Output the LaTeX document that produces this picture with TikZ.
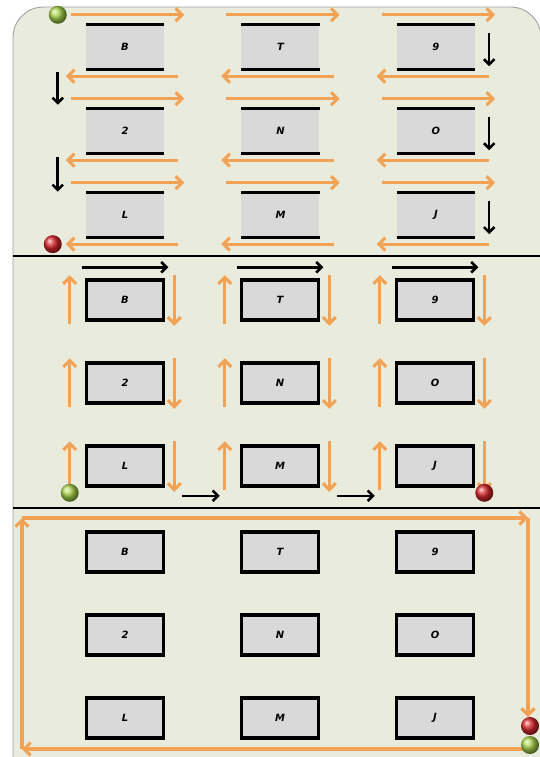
\documentclass[tikz,border=0pt]{standalone}
\usepackage{fontspec}
\setmainfont{DejaVu Sans}
\usetikzlibrary{arrows.meta,positioning,calc}
\definecolor{panel}{HTML}{E9ECDD}
\definecolor{edge}{HTML}{A3A3A3}
\definecolor{lotfill}{HTML}{D9D9D9}
\definecolor{route}{HTML}{F2A254}
\definecolor{startc}{HTML}{A8D44C}
\definecolor{stopc}{HTML}{D8282C}

\begin{document}
\begin{tikzpicture}[x=0.03cm, y=-0.03cm, node distance=1.185cm and 2.31cm,
      every node/.style={font=\fontsize{8.5}{10}\selectfont\bfseries\itshape},
      lot/.style={fill=lotfill, minimum width=2.34cm, minimum height=1.32cm, inner sep=0pt},
      stall/.style={draw=black, fill=lotfill, line width=3pt, minimum width=2.31cm, minimum height=1.2cm, inner sep=0pt},
      bar/.style={line width=2.6pt},
      route/.style={-{Straight Barb[length=5.5pt,width=11pt]}, draw=route, line width=2.6pt},
      turn/.style={-{Straight Barb[length=4.5pt,width=9pt]}, draw=black, line width=2.2pt},
      divider/.style={line width=2.2pt},
      greenball/.style={circle, shading=ball, ball color=startc, minimum size=0.54cm, inner sep=0pt},
      redball/.style={circle, shading=ball, ball color=stopc, minimum size=0.54cm, inner sep=0pt}]
    \clip (0,0) rectangle (540,757);
    \fill[white] (0,0) rectangle (540,757);
    \draw[fill=panel, draw=edge, line width=0.8pt, rounded corners=26pt] (13,790) -- (13,7) -- (541,7) -- (541,790);
    \draw[divider] (13,256) -- (540,256);
    \draw[divider] (13,508) -- (540,508);

    % first layout: rows of stalls
    \node[lot] (topB) at (125,47) {B};
    \node[lot, right=of topB] (topT) {T};
    \node[lot, right=of topT] (top9) {9};
    \node[lot, below=of topB] (top2) {2};
    \node[lot, right=of top2] (topN) {N};
    \node[lot, right=of topN] (topO) {O};
    \node[lot, below=of top2] (topL) {L};
    \node[lot, right=of topL] (topM) {M};
    \node[lot, right=of topM] (topJ) {J};
    \foreach \n in {topB,topT,top9,top2,topN,topO,topL,topM,topJ}{
      \draw[bar] (\n.north west) -- (\n.north east) (\n.south west) -- (\n.south east);
      \draw[route] ($(\n.north west)+(-15,-10)$) -- ($(\n.north east)+(20,-10)$);
      \draw[route] ($(\n.south east)+(14,7)$) -- ($(\n.south west)+(-20,7)$);
    }
    \draw[turn] ($(topB.south west)+(-28,3)$) -- ($(top2.north west)+(-28,-4)$);
    \draw[turn] ($(top2.south west)+(-28,4)$) -- ($(topL.north west)+(-28,-1)$);
    \foreach \n in {top9,topO,topJ}
      \draw[turn] ($(\n.north east)+(14,8)$) -- ($(\n.south east)+(14,-3)$);
    \node[greenball] (go1) at ($(topB.north west)+(-28,-10)$) {};
    \node[redball] (end1) at ($(topL.south west)+(-33,7)$) {};

    % second layout: columns of stalls
    \begin{scope}[node distance=1.185cm and 2.235cm]
      \node[stall] (midB) at (125,300) {B};
      \node[stall, right=of midB] (midT) {T};
      \node[stall, right=of midT] (mid9) {9};
      \node[stall, below=of midB] (mid2) {2};
      \node[stall, right=of mid2] (midN) {N};
      \node[stall, right=of midN] (midO) {O};
      \node[stall, below=of mid2] (midL) {L};
      \node[stall, right=of midL] (midM) {M};
      \node[stall, right=of midM] (midJ) {J};
    \end{scope}
    \foreach \n in {midB,midT,mid9,mid2,midN,midO,midL,midM,midJ}{
      \draw[route] ($(\n.south west)+(-15,2)$) -- ($(\n.north west)+(-15,-3)$);
      \draw[route] ($(\n.north east)+(9,-3)$) -- ($(\n.south east)+(9,4)$);
    }
    \foreach \n in {midB,midT,mid9}
      \draw[turn] ($(\n.north west)+(-3,-11)$) -- ($(\n.north east)+(3,-11)$);
    \draw[turn] ($(midL.south east)+(17,8)$) -- ($(midM.south west)+(-20,8)$);
    \draw[turn] ($(midM.south east)+(17,8)$) -- ($(midJ.south west)+(-20,8)$);
    \node[greenball] (go2) at ($(midL.south west)+(-15,5)$) {};
    \node[redball] (end2) at ($(midJ.south east)+(9,5)$) {};

    % third layout: loop round the block
    \begin{scope}[node distance=1.185cm and 2.235cm]
      \node[stall] (lowB) at (125,552) {B};
      \node[stall, right=of lowB] (lowT) {T};
      \node[stall, right=of lowT] (low9) {9};
      \node[stall, below=of lowB] (low2) {2};
      \node[stall, right=of low2] (lowN) {N};
      \node[stall, right=of lowN] (lowO) {O};
      \node[stall, below=of low2] (lowL) {L};
      \node[stall, right=of lowL] (lowM) {M};
      \node[stall, right=of lowM] (lowJ) {J};
    \end{scope}
    \coordinate (nw) at (22,518);
    \coordinate (ne) at (528,518);
    \coordinate (se) at (528,749);
    \coordinate (sw) at (22,749);
    \coordinate (halt) at (528,717);
    \draw[route] (nw) -- (ne); \draw[route] (ne) -- (halt);
    \draw[route] (se) -- (sw); \draw[route] (sw) -- (nw);
    \node[redball] (end3) at (530,726) {};
    \node[greenball] (go3) at (530,745) {};
  \end{tikzpicture}
\end{document}
